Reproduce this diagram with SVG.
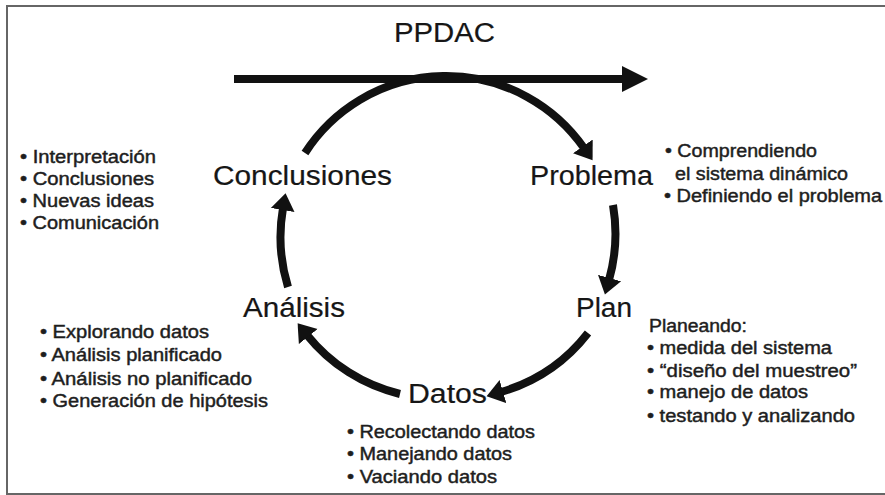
<svg xmlns="http://www.w3.org/2000/svg" width="885" height="495" viewBox="0 0 885 495">
<style>
text{font-family:"Liberation Sans",Arial,sans-serif;fill:#161616}
.big{font-size:27px;stroke:#161616;stroke-width:0.2}
.sm{font-size:18px;fill:#1e1e1e;stroke:#1e1e1e;stroke-width:0.45}
.arc{fill:none;stroke:#111;stroke-width:8;stroke-linecap:butt}
</style>
<defs>
<marker id="ah" markerUnits="userSpaceOnUse" markerWidth="20" markerHeight="26" viewBox="0 -13 20 26" refX="2" refY="0" orient="auto">
<path d="M0,-12 L17,0 L0,12 Z" fill="#111"/>
</marker>
</defs>
<rect x="7" y="6" width="882" height="488" fill="#fff" stroke="#666" stroke-width="2"/>

<g id="title">
<text class="big" x="394" y="42" textLength="101" lengthAdjust="spacingAndGlyphs">PPDAC</text>
</g>

<g id="connectors">
<line x1="234" y1="79" x2="624" y2="79" stroke="#111" stroke-width="8"/>
<polygon points="622,66 648,79 622,92" fill="#111"/>
<path class="arc" d="M305,153 A168,168 0 0 1 584,148" marker-end="url(#ah)"/>
<path class="arc" d="M613,205 A170,170 0 0 1 609,280" marker-end="url(#ah)"/>
<path class="arc" d="M588,333 A170,170 0 0 1 501,392" marker-end="url(#ah)"/>
<path class="arc" d="M400,394 A170,170 0 0 1 307,335" marker-end="url(#ah)"/>
<path class="arc" d="M288,287 A170,170 0 0 1 283,208" marker-end="url(#ah)"/>
</g>

<g id="conclusiones">
<text class="big" x="213" y="185" textLength="179" lengthAdjust="spacingAndGlyphs">Conclusiones</text>
<text class="sm" x="20" y="163" textLength="136" lengthAdjust="spacingAndGlyphs">• Interpretación</text>
<text class="sm" x="20" y="185" textLength="134" lengthAdjust="spacingAndGlyphs">• Conclusiones</text>
<text class="sm" x="20" y="207" textLength="134" lengthAdjust="spacingAndGlyphs">• Nuevas ideas</text>
<text class="sm" x="20" y="229" textLength="139" lengthAdjust="spacingAndGlyphs">• Comunicación</text>
</g>

<g id="problema">
<text class="big" x="530" y="185" textLength="123" lengthAdjust="spacingAndGlyphs">Problema</text>
<text class="sm" x="665" y="157" textLength="152" lengthAdjust="spacingAndGlyphs">• Comprendiendo</text>
<text class="sm" x="675" y="180" textLength="173" lengthAdjust="spacingAndGlyphs">el sistema dinámico</text>
<text class="sm" x="664" y="202" textLength="218" lengthAdjust="spacingAndGlyphs">• Definiendo el problema</text>
</g>

<g id="plan">
<text class="big" x="576" y="317" textLength="56" lengthAdjust="spacingAndGlyphs">Plan</text>
<text class="sm" x="649" y="332" textLength="98" lengthAdjust="spacingAndGlyphs">Planeando:</text>
<text class="sm" x="647" y="354" textLength="185" lengthAdjust="spacingAndGlyphs">• medida del sistema</text>
<text class="sm" x="647" y="377" textLength="210" lengthAdjust="spacingAndGlyphs">• “diseño del muestreo”</text>
<text class="sm" x="647" y="398" textLength="161" lengthAdjust="spacingAndGlyphs">• manejo de datos</text>
<text class="sm" x="647" y="422" textLength="208" lengthAdjust="spacingAndGlyphs">• testando y analizando</text>
</g>

<g id="datos">
<text class="big" x="408" y="403" textLength="79" lengthAdjust="spacingAndGlyphs">Datos</text>
<text class="sm" x="347" y="438" textLength="188" lengthAdjust="spacingAndGlyphs">• Recolectando datos</text>
<text class="sm" x="347" y="460" textLength="165" lengthAdjust="spacingAndGlyphs">• Manejando datos</text>
<text class="sm" x="347" y="483" textLength="150" lengthAdjust="spacingAndGlyphs">• Vaciando datos</text>
</g>

<g id="analisis">
<text class="big" x="243" y="317" textLength="102" lengthAdjust="spacingAndGlyphs">Análisis</text>
<text class="sm" x="40" y="338" textLength="169" lengthAdjust="spacingAndGlyphs">• Explorando datos</text>
<text class="sm" x="40" y="361" textLength="182" lengthAdjust="spacingAndGlyphs">• Análisis planificado</text>
<text class="sm" x="40" y="385" textLength="212" lengthAdjust="spacingAndGlyphs">• Análisis no planificado</text>
<text class="sm" x="40" y="407" textLength="228" lengthAdjust="spacingAndGlyphs">• Generación de hipótesis</text>
</g>
</svg>
